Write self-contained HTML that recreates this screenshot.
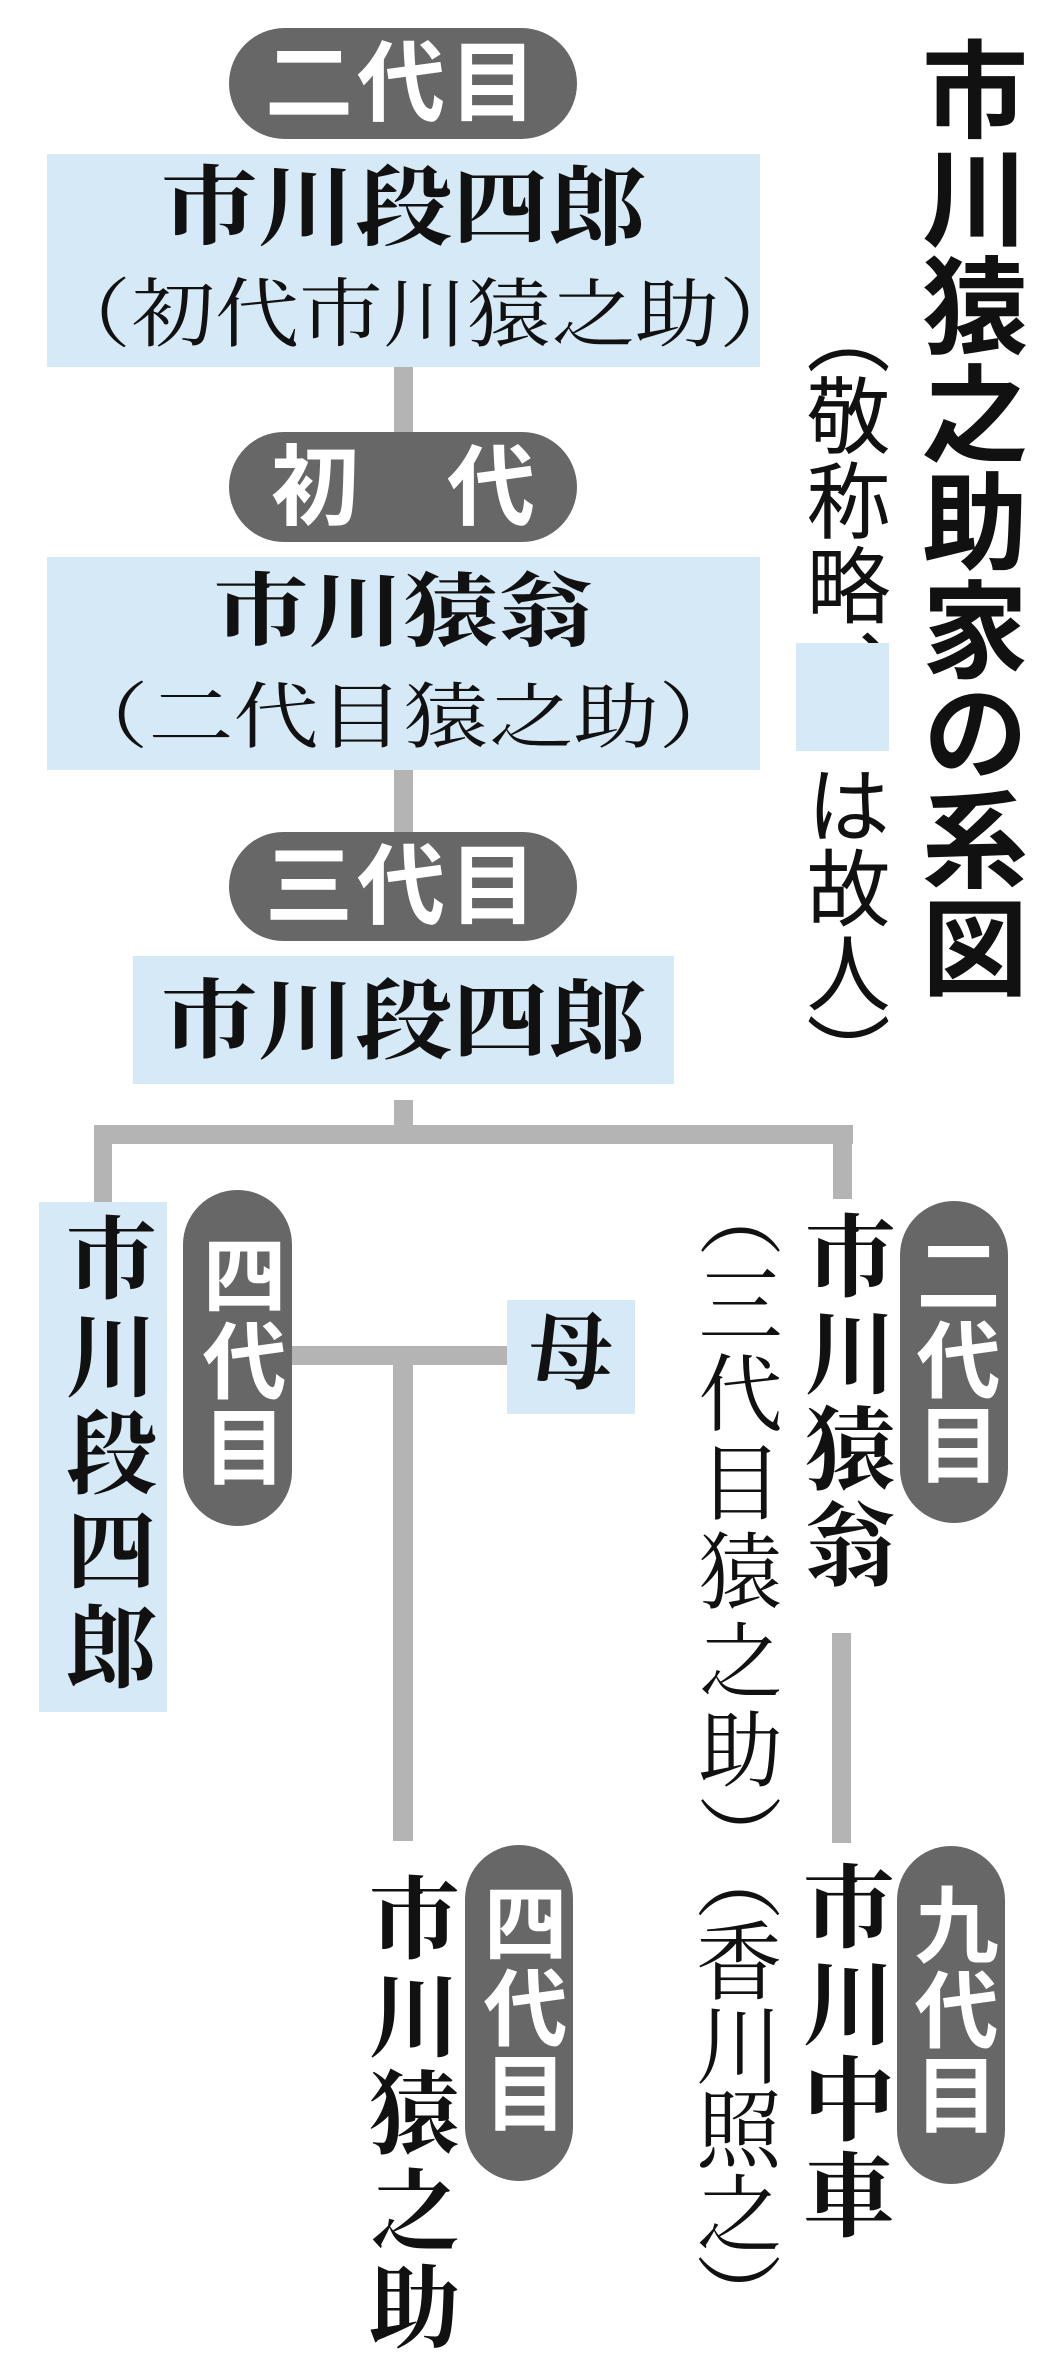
<!DOCTYPE html>
<html><head><meta charset="utf-8"><style>
html,body{margin:0;padding:0;background:#fff;}
body{width:1052px;height:2377px;position:relative;overflow:hidden;}
.ln{position:absolute;background:#b4b4b4;}
.box{position:absolute;background:#d6e9f6;}
.pill{position:absolute;background:#676767;border-radius:56px;}
.ser{font-family:"Liberation Serif","Noto Serif CJK JP","Noto Serif CJK SC",serif;font-weight:700;color:#111;}
.serr{font-family:"Liberation Serif","Noto Serif CJK JP","Noto Serif CJK SC",serif;font-weight:400;color:#111;}
.san{font-family:"Liberation Sans","Noto Sans CJK JP",sans-serif;font-weight:700;}
.sanr{font-family:"Liberation Sans","Noto Sans CJK JP",sans-serif;font-weight:400;color:#111;}
.h{position:absolute;line-height:1;white-space:nowrap;text-align:center;}
.v{position:absolute;writing-mode:vertical-rl;text-orientation:upright;line-height:1;white-space:nowrap;font-feature-settings:"vpal";}
.w{color:#fff;}
</style></head><body>

<div class="ln" style="left:394px;top:365px;width:19px;height:70px"></div>
<div class="ln" style="left:394px;top:768px;width:19px;height:66px"></div>
<div class="ln" style="left:394px;top:1100px;width:19px;height:40px"></div>
<div class="ln" style="left:94px;top:1125px;width:759px;height:19px"></div>
<div class="ln" style="left:94px;top:1125px;width:18px;height:78px"></div>
<div class="ln" style="left:833px;top:1125px;width:19px;height:74px"></div>
<div class="ln" style="left:292px;top:1346px;width:216px;height:19px"></div>
<div class="ln" style="left:393px;top:1346px;width:20px;height:495px"></div>
<div class="ln" style="left:832px;top:1633px;width:19px;height:210px"></div>

<div class="pill" style="left:229px;top:28px;width:348px;height:111px"></div>
<div class="h san w" style="left:229px;top:40px;width:348px;font-size:88px;letter-spacing:4px">二代目</div>

<div class="box" style="left:47px;top:154px;width:713px;height:213px"></div>
<div class="h ser" style="left:47px;top:160px;width:713px;font-size:97px;transform:scaleY(0.9)">市川段四郎</div>
<div class="h serr" style="left:47px;top:274px;width:713px;font-size:84px;transform:scaleY(0.9)">（初代市川猿之助）</div>

<div class="pill" style="left:229px;top:432px;width:348px;height:110px"></div>
<div class="h san w" style="left:229px;top:444px;width:348px;font-size:88px">初　代</div>

<div class="box" style="left:47px;top:557px;width:713px;height:213px"></div>
<div class="h ser" style="left:47px;top:565px;width:713px;font-size:95px;transform:scaleY(0.85)">市川猿翁</div>
<div class="h serr" style="left:47px;top:676px;width:713px;font-size:85px;transform:scaleY(0.85)">（二代目猿之助）</div>

<div class="pill" style="left:229px;top:832px;width:348px;height:109px"></div>
<div class="h san w" style="left:229px;top:843px;width:348px;font-size:88px;letter-spacing:4px">三代目</div>

<div class="box" style="left:133px;top:956px;width:541px;height:128px"></div>
<div class="h ser" style="left:133px;top:974px;width:541px;font-size:97px;transform:scaleY(0.9)">市川段四郎</div>

<div class="v san" style="left:912px;top:36px;font-size:106px;letter-spacing:2px;color:#111">市川猿之助家の系図</div>
<div class="v sanr" style="left:800px;top:330px;font-size:84px;letter-spacing:1px">（敬称略、</div>
<div class="box" style="left:796px;top:643px;width:93px;height:108px"></div>
<div class="v sanr" style="left:800px;top:765px;font-size:84px;letter-spacing:1px">は故人）</div>

<div class="box" style="left:39px;top:1202px;width:128px;height:510px"></div>
<div class="v ser" style="left:58px;top:1212px;font-size:91px;letter-spacing:6px">市川段四郎</div>
<div class="pill" style="left:183px;top:1190px;width:109px;height:336px;border-radius:55px"></div>
<div class="v san w" style="left:196px;top:1232px;font-size:84px;letter-spacing:2px">四代目</div>

<div class="box" style="left:507px;top:1300px;width:128px;height:114px"></div>
<div class="h ser" style="left:507px;top:1313px;width:128px;font-size:84px">母</div>

<div class="pill" style="left:900px;top:1201px;width:108px;height:322px;border-radius:54px"></div>
<div class="v san w" style="left:910px;top:1232px;font-size:84px;letter-spacing:1px">二代目</div>
<div class="v ser" style="left:797px;top:1210px;font-size:91px;letter-spacing:5px">市川猿翁</div>
<div class="v serr" style="left:690px;top:1214px;font-size:84px;letter-spacing:5px">（三代目猿之助）</div>

<div class="pill" style="left:897px;top:1846px;width:108px;height:338px;border-radius:54px"></div>
<div class="v san w" style="left:908px;top:1882px;font-size:84px;letter-spacing:1px">九代目</div>
<div class="v ser" style="left:795px;top:1860px;font-size:92px;letter-spacing:4px">市川中車</div>
<div class="v serr" style="left:688px;top:1876px;font-size:86px;letter-spacing:-2px">（香川照之）</div>

<div class="pill" style="left:465px;top:1845px;width:108px;height:336px;border-radius:54px"></div>
<div class="v san w" style="left:477px;top:1880px;font-size:84px;letter-spacing:1px">四代目</div>
<div class="v ser" style="left:361px;top:1872px;font-size:91px;letter-spacing:6px">市川猿之助</div>

</body></html>
